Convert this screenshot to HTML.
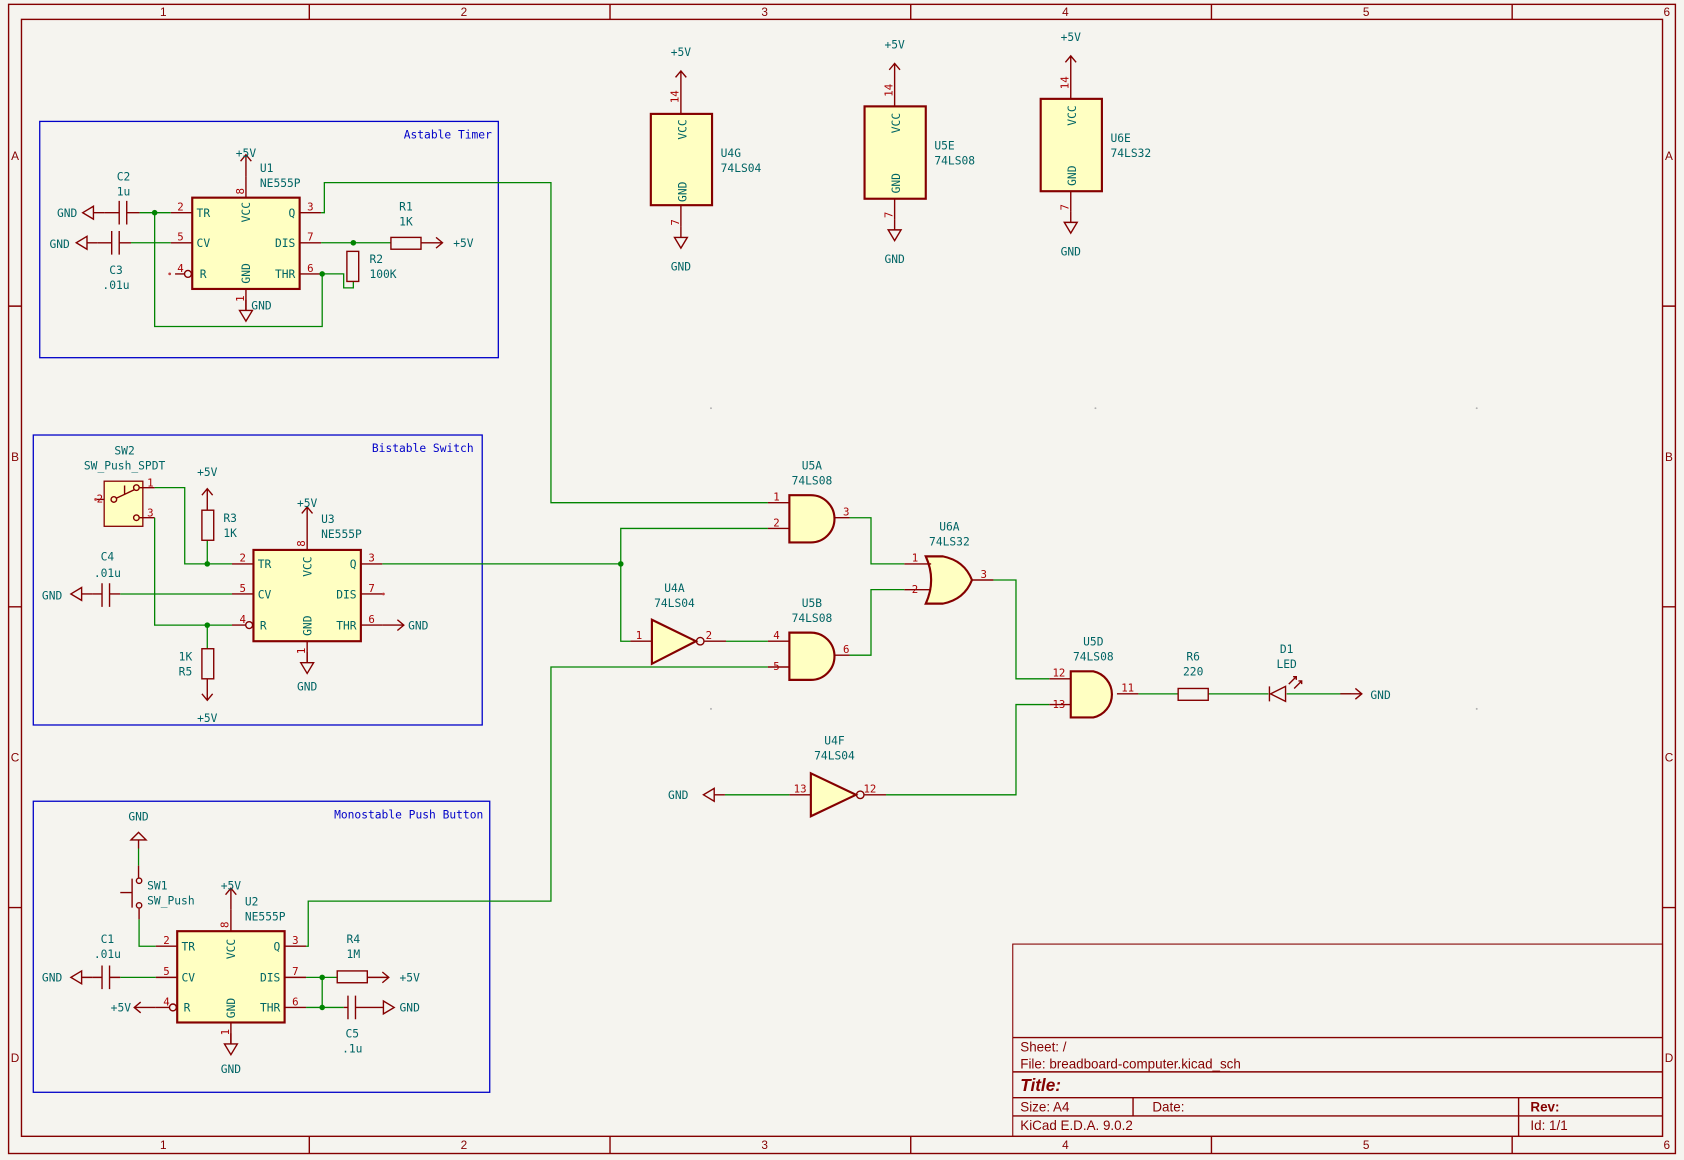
<!DOCTYPE html>
<html><head><meta charset="utf-8"><style>
html,body{margin:0;padding:0;background:#f5f4ef}
svg{display:block}
text{font-family:"DejaVu Sans Mono","Liberation Mono",monospace;font-size:10.5px;fill:#006464}
.p{fill:#a90000;font-size:10px}
.b{fill:#0000c8}
.w{stroke:#008400;stroke-width:1.2;fill:none}
.r{stroke:#840000;stroke-width:1.3;fill:none}
.body{stroke:#840000;stroke-width:2;fill:#ffffc2}
.k{fill:#840000;font-family:"Liberation Sans",sans-serif;font-size:11px}
.t{fill:#840000;font-family:"Liberation Sans",sans-serif;font-size:12.5px}
.j{fill:#008400}
</style></head><body>
<svg width="1684" height="1160" viewBox="0 0 1568 1080" xmlns="http://www.w3.org/2000/svg">
<defs>
<g id="gndL"><path class="r" d="M0,0 H-10 M-10,-6 L-20,0 L-10,6 Z"/></g>
<g id="gndD"><path class="r" d="M0,0 V10 M-6,10 L0,20 L6,10 Z"/></g>
<g id="pwrU"><path class="r" d="M0,0 V-20 M-5,-14 L0,-20 L5,-14"/></g>
<g id="pwrR"><path class="r" d="M0,0 H20 M14,-5 L20,0 L14,5"/></g>
</defs>
<rect x="0" y="0" width="1568" height="1080" fill="#f5f4ef"/>
<!-- frame -->
<rect x="8" y="4" width="1552" height="1070" class="r" stroke-width="1"/>
<rect x="20" y="18" width="1528" height="1040" class="r" stroke-width="1"/>
<path class="r" stroke-width="1" d="M288,4V18 M568,4V18 M848,4V18 M1128,4V18 M1408,4V18 M288,1058V1074 M568,1058V1074 M848,1058V1074 M1128,1058V1074 M1408,1058V1074 M8,285H20 M8,565H20 M8,845H20 M1548,285H1560 M1548,565H1560 M1548,845H1560"/>
<g class="k" text-anchor="middle">
<text class="k" x="152" y="15">1</text><text class="k" x="432" y="15">2</text><text class="k" x="712" y="15">3</text><text class="k" x="992" y="15">4</text><text class="k" x="1272" y="15">5</text><text class="k" x="1552" y="15">6</text>
<text class="k" x="152" y="1070">1</text><text class="k" x="432" y="1070">2</text><text class="k" x="712" y="1070">3</text><text class="k" x="992" y="1070">4</text><text class="k" x="1272" y="1070">5</text><text class="k" x="1552" y="1070">6</text>
<text class="k" x="14" y="149">A</text><text class="k" x="14" y="429">B</text><text class="k" x="14" y="709">C</text><text class="k" x="14" y="989">D</text>
<text class="k" x="1554" y="149">A</text><text class="k" x="1554" y="429">B</text><text class="k" x="1554" y="709">C</text><text class="k" x="1554" y="989">D</text>
</g>

<!-- ===== Astable ===== -->
<rect x="37" y="113" width="427" height="220" fill="none" stroke="#0000c8" stroke-width="1.2"/>
<text class="b" x="458" y="129" text-anchor="end">Astable Timer</text>
<rect class="body" x="179" y="184" width="100" height="85"/>
<path class="r" d="M159,198H179 M159,226H179 M163,255H172 M279,198H299 M279,226H299 M279,255H299 M229,184V164 M229,269V289"/>
<circle cx="175" cy="255" r="3.2" class="r"/><circle cx="158" cy="255" r="1.3" fill="#c04040"/>
<use href="#pwrU" x="229" y="164"/><text x="229" y="146" text-anchor="middle">+5V</text>
<use href="#gndD" x="229" y="279"/><text x="234" y="288">GND</text>
<text x="183" y="202">TR</text><text x="183" y="230">CV</text><text x="186" y="259">R</text>
<text x="275" y="202" text-anchor="end">Q</text><text x="275" y="230" text-anchor="end">DIS</text><text x="275" y="259" text-anchor="end">THR</text>
<text x="233" y="207" transform="rotate(-90 233 207)" >VCC</text><text x="233" y="264" transform="rotate(-90 233 264)">GND</text>
<text class="p" x="168" y="196" text-anchor="middle">2</text><text class="p" x="168" y="224" text-anchor="middle">5</text><text class="p" x="168" y="253" text-anchor="middle">4</text>
<text class="p" x="289" y="196" text-anchor="middle">3</text><text class="p" x="289" y="224" text-anchor="middle">7</text><text class="p" x="289" y="253" text-anchor="middle">6</text>
<text class="p" x="227" y="181" transform="rotate(-90 227 181)">8</text><text class="p" x="227" y="281" transform="rotate(-90 227 281)">1</text>
<text x="242" y="160">U1</text><text x="242" y="174">NE555P</text>
<path class="r" stroke-width="2" d="M111,187V209 M118,187V209"/>
<path class="r" d="M111,198H97 M118,198H130"/>
<use href="#gndL" x="97" y="198"/><text x="72" y="202" text-anchor="end">GND</text>
<text x="115" y="168" text-anchor="middle">C2</text><text x="115" y="182" text-anchor="middle">1u</text>
<path class="r" stroke-width="2" d="M104,215V237 M111,215V237"/>
<path class="r" d="M104,226H91 M111,226H122"/>
<use href="#gndL" x="91" y="226"/><text x="65" y="231" text-anchor="end">GND</text>
<text x="108" y="255" text-anchor="middle">C3</text><text x="108" y="269" text-anchor="middle">.01u</text>
<path class="w" d="M130,198H159 M122,226H159 M144,198V304H300V255 M299,255H320V268H329V262 M299,198H302V170H513V468H715 M299,226H364"/>
<circle class="j" cx="144" cy="198" r="2.6"/><circle class="j" cx="300" cy="255" r="2.6"/><circle class="j" cx="329" cy="226" r="2.6"/>
<rect class="r" stroke-width="2" x="364" y="221" width="28" height="11" fill="none"/>
<use href="#pwrR" x="392" y="226"/>
<text x="422" y="230">+5V</text><text x="378" y="196" text-anchor="middle">R1</text><text x="378" y="210" text-anchor="middle">1K</text>
<rect class="r" stroke-width="2" x="323" y="234" width="11" height="28" fill="none"/>
<text x="344" y="245">R2</text><text x="344" y="259">100K</text>

<!-- ===== Power ICs ===== -->
<g>
<rect class="body" x="606" y="106" width="57" height="85"/>
<path class="r" d="M634,106V66 M629,72L634,66L639,72 M634,191V211"/><use href="#gndD" x="634" y="211"/>
<text x="634" y="52" text-anchor="middle">+5V</text><text x="634" y="252" text-anchor="middle">GND</text>
<text x="639" y="130" transform="rotate(-90 639 130)">VCC</text><text x="639" y="188" transform="rotate(-90 639 188)">GND</text>
<text class="p" x="632" y="96" transform="rotate(-90 632 96)">14</text><text class="p" x="632" y="210" transform="rotate(-90 632 210)">7</text>
<text x="671" y="146">U4G</text><text x="671" y="160">74LS04</text>
</g>
<g>
<rect class="body" x="805" y="99" width="57" height="86"/>
<path class="r" d="M833,99V59 M828,65L833,59L838,65 M833,185V204"/><use href="#gndD" x="833" y="204"/>
<text x="833" y="45" text-anchor="middle">+5V</text><text x="833" y="245" text-anchor="middle">GND</text>
<text x="838" y="124" transform="rotate(-90 838 124)">VCC</text><text x="838" y="180" transform="rotate(-90 838 180)">GND</text>
<text class="p" x="831" y="90" transform="rotate(-90 831 90)">14</text><text class="p" x="831" y="203" transform="rotate(-90 831 203)">7</text>
<text x="870" y="139">U5E</text><text x="870" y="153">74LS08</text>
</g>
<g>
<rect class="body" x="969" y="92" width="57" height="86"/>
<path class="r" d="M997,92V52 M992,58L997,52L1002,58 M997,178V197"/><use href="#gndD" x="997" y="197"/>
<text x="997" y="38" text-anchor="middle">+5V</text><text x="997" y="238" text-anchor="middle">GND</text>
<text x="1002" y="117" transform="rotate(-90 1002 117)">VCC</text><text x="1002" y="173" transform="rotate(-90 1002 173)">GND</text>
<text class="p" x="995" y="83" transform="rotate(-90 995 83)">14</text><text class="p" x="995" y="196" transform="rotate(-90 995 196)">7</text>
<text x="1034" y="132">U6E</text><text x="1034" y="146">74LS32</text>
</g>

<!-- ===== Bistable ===== -->
<rect x="31" y="405" width="418" height="270" fill="none" stroke="#0000c8" stroke-width="1.2"/>
<text class="b" x="441" y="421" text-anchor="end">Bistable Switch</text>
<rect class="body" x="236" y="512" width="100" height="85"/>
<path class="r" d="M216,525H236 M216,553H236 M216,582H229 M336,525H356 M336,553H356 M336,582H356 M286,512V492 M286,597V617"/>
<circle cx="232" cy="582" r="3.2" class="r"/><circle cx="357" cy="553" r="1.3" fill="#c04040"/>
<use href="#pwrU" x="286" y="492"/><text x="286" y="472" text-anchor="middle">+5V</text>
<use href="#gndD" x="286" y="607"/><text x="286" y="643" text-anchor="middle">GND</text>
<text x="240" y="529">TR</text><text x="240" y="557">CV</text><text x="242" y="586">R</text>
<text x="332" y="529" text-anchor="end">Q</text><text x="332" y="557" text-anchor="end">DIS</text><text x="332" y="586" text-anchor="end">THR</text>
<text x="290" y="537" transform="rotate(-90 290 537)">VCC</text><text x="290" y="592" transform="rotate(-90 290 592)">GND</text>
<text class="p" x="226" y="523" text-anchor="middle">2</text><text class="p" x="226" y="551" text-anchor="middle">5</text><text class="p" x="226" y="580" text-anchor="middle">4</text>
<text class="p" x="346" y="523" text-anchor="middle">3</text><text class="p" x="346" y="551" text-anchor="middle">7</text><text class="p" x="346" y="580" text-anchor="middle">6</text>
<text class="p" x="284" y="509" transform="rotate(-90 284 509)">8</text><text class="p" x="284" y="609" transform="rotate(-90 284 609)">1</text>
<text x="299" y="487">U3</text><text x="299" y="501">NE555P</text>
<use href="#pwrR" x="356" y="582"/><text x="380" y="586">GND</text>
<!-- SW2 -->
<rect x="97" y="448" width="36" height="42" fill="#ffffc2" stroke="#840000" stroke-width="1.2"/>
<circle cx="106" cy="465" r="2.6" class="r"/><circle cx="127" cy="454" r="2.6" class="r"/><circle cx="127" cy="482" r="2.6" class="r"/>
<path class="r" d="M108,464L125,456 M116,460V452 M97,465H89 M130,454H144 M130,482H144"/>
<circle cx="89" cy="465" r="1.3" fill="#c04040"/>
<text x="116" y="423" text-anchor="middle">SW2</text><text x="116" y="437" text-anchor="middle">SW_Push_SPDT</text>
<text class="p" x="93" y="468" text-anchor="middle">2</text><text class="p" x="137" y="453">1</text><text class="p" x="137" y="481">3</text>
<path class="w" d="M144,454H172V525H216 M144,482H144V582H216 M193,525V503 M193,582V604"/>
<circle class="j" cx="193" cy="525" r="2.6"/><circle class="j" cx="193" cy="582" r="2.6"/>
<use href="#pwrU" x="193" y="475"/><text x="193" y="443" text-anchor="middle">+5V</text>
<rect class="r" stroke-width="2" x="188" y="475" width="11" height="28" fill="none"/>
<text x="208" y="486">R3</text><text x="208" y="500">1K</text>
<rect class="r" stroke-width="2" x="188" y="604" width="11" height="28" fill="none"/>
<path class="r" d="M193,632V652 M188,646L193,652L198,646"/>
<text x="193" y="672" text-anchor="middle">+5V</text>
<text x="179" y="615" text-anchor="end">1K</text><text x="179" y="629" text-anchor="end">R5</text>
<path class="r" stroke-width="2" d="M95,543V565 M102,543V565"/>
<path class="r" d="M95,553H86 M102,553H112"/>
<use href="#gndL" x="86" y="553"/><text x="58" y="558" text-anchor="end">GND</text>
<text x="100" y="522" text-anchor="middle">C4</text><text x="100" y="537" text-anchor="middle">.01u</text>
<path class="w" d="M112,553H216 M356,525H578V492H715 M578,525V597H587"/>
<circle class="j" cx="578" cy="525" r="2.6"/>

<!-- ===== Monostable ===== -->
<rect x="31" y="746" width="425" height="271" fill="none" stroke="#0000c8" stroke-width="1.2"/>
<text class="b" x="450" y="762" text-anchor="end">Monostable Push Button</text>
<rect class="body" x="165" y="867" width="100" height="85"/>
<path class="r" d="M145,881H165 M145,910H165 M145,938H158 M265,881H285 M265,910H285 M265,938H285 M215,867V847 M215,952V972"/>
<circle cx="161" cy="938" r="3.2" class="r"/>
<use href="#pwrU" x="215" y="847"/><text x="215" y="828" text-anchor="middle">+5V</text>
<use href="#gndD" x="215" y="962"/><text x="215" y="999" text-anchor="middle">GND</text>
<text x="169" y="885">TR</text><text x="169" y="914">CV</text><text x="171" y="942">R</text>
<text x="261" y="885" text-anchor="end">Q</text><text x="261" y="914" text-anchor="end">DIS</text><text x="261" y="942" text-anchor="end">THR</text>
<text x="219" y="893" transform="rotate(-90 219 893)">VCC</text><text x="219" y="948" transform="rotate(-90 219 948)">GND</text>
<text class="p" x="155" y="879" text-anchor="middle">2</text><text class="p" x="155" y="908" text-anchor="middle">5</text><text class="p" x="155" y="936" text-anchor="middle">4</text>
<text class="p" x="275" y="879" text-anchor="middle">3</text><text class="p" x="275" y="908" text-anchor="middle">7</text><text class="p" x="275" y="936" text-anchor="middle">6</text>
<text class="p" x="213" y="864" transform="rotate(-90 213 864)">8</text><text class="p" x="213" y="964" transform="rotate(-90 213 964)">1</text>
<text x="228" y="843">U2</text><text x="228" y="857">NE555P</text>
<path class="r" d="M145,938H125 M131,933L125,938L131,943"/>
<text x="122" y="942" text-anchor="end">+5V</text>
<!-- SW1 -->
<text x="129" y="764" text-anchor="middle">GND</text>
<path class="r" d="M122,782L129,775L136,782Z M129,782V790"/>
<path class="w" d="M129,790V806"/>
<path class="r" d="M129,806V817"/>
<circle cx="129.5" cy="820" r="2.5" class="r"/><circle cx="129.5" cy="843" r="2.5" class="r"/>
<path class="r" d="M123,818V845 M112,831H123"/>
<text x="137" y="828">SW1</text><text x="137" y="842">SW_Push</text>
<path class="r" d="M129.5,846V856"/>
<path class="w" d="M129.5,856V881H145"/>
<path class="r" stroke-width="2" d="M95,899V921 M102,899V921"/>
<path class="r" d="M95,910H86 M102,910H112"/>
<use href="#gndL" x="86" y="910"/><text x="58" y="914" text-anchor="end">GND</text>
<text x="100" y="878" text-anchor="middle">C1</text><text x="100" y="892" text-anchor="middle">.01u</text>
<path class="w" d="M112,910H145 M285,910H314 M285,938H320 M300,910V938 M285,881H287V839H513V621H715"/>
<circle class="j" cx="300" cy="910" r="2.6"/><circle class="j" cx="300" cy="938" r="2.6"/>
<rect class="r" stroke-width="2" x="314" y="904" width="28" height="11" fill="none"/>
<use href="#pwrR" x="342" y="910"/><text x="372" y="914">+5V</text>
<text x="329" y="878" text-anchor="middle">R4</text><text x="329" y="892" text-anchor="middle">1M</text>
<path class="r" stroke-width="2" d="M324,927V949 M331,927V949"/>
<path class="r" d="M320,938H324 M331,938H357"/>
<path class="r" d="M357,932L367,938L357,944Z"/>
<text x="372" y="942">GND</text>
<text x="328" y="966" text-anchor="middle">C5</text><text x="328" y="980" text-anchor="middle">.1u</text>

<!-- ===== Gates ===== -->
<path class="body" d="M735,461H755A22,22 0 0 1 755,505H735Z"/>
<path class="r" d="M715,468H735 M715,492H735 M777,482H791"/>
<text class="p" x="723" y="466" text-anchor="middle">1</text><text class="p" x="723" y="490" text-anchor="middle">2</text><text class="p" x="788" y="480" text-anchor="middle">3</text>
<text x="756" y="437" text-anchor="middle">U5A</text><text x="756" y="451" text-anchor="middle">74LS08</text>
<path class="body" d="M735,589H755A22,22 0 0 1 755,633H735Z"/>
<path class="r" d="M715,597H735 M715,621H735 M777,610H791"/>
<text class="p" x="723" y="595" text-anchor="middle">4</text><text class="p" x="723" y="624" text-anchor="middle">5</text><text class="p" x="788" y="608" text-anchor="middle">6</text>
<text x="756" y="565" text-anchor="middle">U5B</text><text x="756" y="579" text-anchor="middle">74LS08</text>
<path class="body" d="M862,518H878Q898,522 905,540Q898,558 878,562H862Q872,540 862,518Z"/>
<path class="r" d="M842,525H867 M842,549H867 M905,540H925"/>
<text class="p" x="852" y="523" text-anchor="middle">1</text><text class="p" x="852" y="552" text-anchor="middle">2</text><text class="p" x="916" y="538" text-anchor="middle">3</text>
<text x="884" y="494" text-anchor="middle">U6A</text><text x="884" y="508" text-anchor="middle">74LS32</text>
<path class="body" d="M997,625H1018A22,22 0 0 1 1018,668H997Z"/>
<path class="r" d="M977,632H997 M977,656H997 M1040,646H1060"/>
<text class="p" x="986" y="630" text-anchor="middle">12</text><text class="p" x="986" y="659" text-anchor="middle">13</text><text class="p" x="1050" y="644" text-anchor="middle">11</text>
<text x="1018" y="601" text-anchor="middle">U5D</text><text x="1018" y="615" text-anchor="middle">74LS08</text>
<path class="body" d="M607,577L648,597L607,618Z"/>
<circle cx="652" cy="597" r="3.5" class="r" fill="#f5f4ef"/>
<path class="r" d="M587,597H607 M656,597H676"/>
<text class="p" x="595" y="595" text-anchor="middle">1</text><text class="p" x="660" y="595" text-anchor="middle">2</text>
<text x="628" y="551" text-anchor="middle">U4A</text><text x="628" y="565" text-anchor="middle">74LS04</text>
<path class="body" d="M755,720L797,740L755,760Z"/>
<circle cx="801" cy="740" r="3.5" class="r" fill="#f5f4ef"/>
<path class="r" d="M735,740H755 M805,740H825"/>
<text class="p" x="745" y="738" text-anchor="middle">13</text><text class="p" x="810" y="738" text-anchor="middle">12</text>
<text x="777" y="693" text-anchor="middle">U4F</text><text x="777" y="707" text-anchor="middle">74LS04</text>
<path class="w" d="M676,597H715 M791,482H811V525H842 M791,610H811V549H842 M925,540H946V632H977 M825,740H946V656H977 M1060,646H1097 M1125,646H1181 M1198,646H1258 M675,740H735"/>
<use href="#gndL" x="675" y="740"/><text x="641" y="744" text-anchor="end">GND</text>
<rect class="r" stroke-width="2" x="1097" y="641" width="28" height="11" fill="none"/>
<text x="1111" y="615" text-anchor="middle">R6</text><text x="1111" y="629" text-anchor="middle">220</text>
<path class="r" stroke-width="1.8" d="M1197,639L1183,646L1197,653Z M1182,639V653"/>
<path class="r" stroke-width="1" d="M1200,637L1207,630 M1204,630H1207V633 M1205,641L1212,634 M1209,634H1212V637"/>
<text x="1198" y="608" text-anchor="middle">D1</text><text x="1198" y="622" text-anchor="middle">LED</text>
<use href="#pwrR" x="1248" y="646"/><text x="1276" y="651">GND</text>

<g fill="#b0b0b0">
<circle cx="662" cy="380" r="0.9"/><circle cx="662" cy="660" r="0.9"/><circle cx="1375" cy="380" r="0.9"/><circle cx="1375" cy="660" r="0.9"/><circle cx="1020" cy="380" r="0.9"/>
</g>

<rect x="943" y="879" width="605" height="179" fill="none" stroke="#840000" stroke-width="1"/>
<path class="r" stroke-width="1" d="M943,966H1548 M943,998H1548 M943,1022H1548 M943,1039H1548 M1055,1022V1039 M1414,1022V1058"/>
<text class="t" x="950" y="979">Sheet: /</text>
<text class="t" x="950" y="995">File: breadboard-computer.kicad_sch</text>
<text class="t" x="950" y="1016" style="font-size:16px;font-weight:bold;font-style:italic">Title:</text>
<text class="t" x="950" y="1035">Size: A4</text>
<text class="t" x="1073" y="1035">Date:</text>
<text class="t" x="1425" y="1035" style="font-weight:bold">Rev:</text>
<text class="t" x="950" y="1052">KiCad E.D.A. 9.0.2</text>
<text class="t" x="1425" y="1052">Id: 1/1</text>
</svg>
</body></html>
